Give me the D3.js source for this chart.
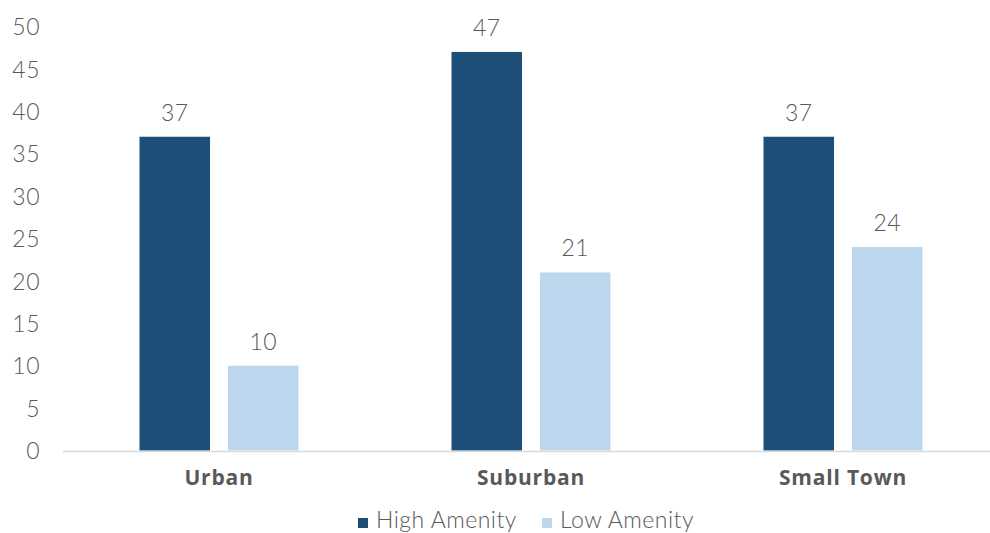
<!DOCTYPE html>
<html>
<head>
<meta charset="utf-8">
<script src="https://cdn.jsdelivr.net/npm/d3@7"></script>
<style>
  html, body { margin: 0; padding: 0; background: #ffffff; }
  svg { display: block; font-family: Lato, "Open Sans", sans-serif; }
</style>
</head>
<body>
<svg id="chart" width="990" height="533"></svg>
<script>
const categories = ["Urban", "Suburban", "Small Town"];
const seriesNames = ["High Amenity", "Low Amenity"];
const highAmenity = [37, 47, 37];
const lowAmenity = [10, 21, 24];
const yTicks = [0, 5, 10, 15, 20, 25, 30, 35, 40, 45, 50];

const colors = { "High Amenity": "#1c4e78", "Low Amenity": "#bdd7ee" };
const textColor = "#595959";

const svg = d3.select("#chart");
const W = 990;
const plotLeft = 63, plotRight = 999, plotTop = 26.5, plotBottom = 450.5;

const x0 = d3.scaleBand().domain(categories).range([plotLeft, plotRight]).padding(0);
const groupW = 159;
const x1 = d3.scaleBand().domain(seriesNames).range([0, groupW]).paddingInner(0.203).paddingOuter(0);
const y = d3.scaleLinear().domain([0, 50]).range([plotBottom, plotTop]);

const rows = categories.map((c, i) => ({
  category: c,
  values: [
    { series: "High Amenity", value: highAmenity[i] },
    { series: "Low Amenity", value: lowAmenity[i] }
  ]
}));

// y axis labels (no line, no ticks)
const yAxis = d3.axisLeft(y).tickValues(yTicks).tickSize(0).tickPadding(0);
const yG = svg.append("g").attr("transform", "translate(40,0)").call(yAxis);
yG.select(".domain").remove();
yG.selectAll("text")
  .attr("fill", textColor)
  .attr("font-size", 23)
  .attr("font-weight", 300)
  .attr("font-family", "Lato, sans-serif")
  .attr("letter-spacing", 0.5)
  .attr("dy", "0.36em");

// bars
const groups = svg.append("g").selectAll("g")
  .data(rows).join("g")
  .attr("transform", d => `translate(${x0(d.category) + (x0.bandwidth() - groupW) / 2},0)`);

groups.selectAll("rect")
  .data(d => d.values).join("rect")
  .attr("x", d => x1(d.series))
  .attr("y", d => y(d.value))
  .attr("width", x1.bandwidth())
  .attr("height", d => y(0) - y(d.value))
  .attr("fill", d => colors[d.series]);

groups.selectAll("text.val")
  .data(d => d.values).join("text")
  .attr("class", "val")
  .attr("x", d => x1(d.series) + x1.bandwidth() / 2)
  .attr("y", d => y(d.value) - 16)
  .attr("text-anchor", "middle")
  .attr("fill", textColor)
  .attr("font-size", 23)
  .attr("font-weight", 300)
  .attr("letter-spacing", 0.5)
  .text(d => d.value);

// baseline
svg.append("line")
  .attr("x1", plotLeft).attr("x2", W)
  .attr("y1", plotBottom + 1).attr("y2", plotBottom + 1)
  .attr("stroke", "#d9d9d9").attr("stroke-width", 1.5);

// category labels
const xAxis = d3.axisBottom(x0).tickSize(0).tickPadding(0);
const xG = svg.append("g").attr("transform", `translate(0,${plotBottom})`).call(xAxis);
xG.select(".domain").remove();
xG.selectAll("text")
  .attr("fill", textColor)
  .attr("font-size", 21)
  .attr("font-weight", 700)
  .attr("font-family", "'Open Sans', sans-serif")
  .attr("letter-spacing", 0.8)
  .attr("dy", 0)
  .attr("y", 34);

// legend
const legendItems = [
  { name: "High Amenity", x: 358 },
  { name: "Low Amenity", x: 542 }
];
const lg = svg.append("g").selectAll("g").data(legendItems).join("g")
  .attr("transform", d => `translate(${d.x},0)`);
lg.append("rect").attr("x", 0).attr("y", 518).attr("width", 10).attr("height", 10)
  .attr("fill", d => colors[d.name]);
lg.append("text").attr("x", 18).attr("y", 528)
  .attr("fill", textColor).attr("font-size", 23).attr("font-weight", 300)
  .attr("letter-spacing", 0.5)
  .text(d => d.name);
</script>
</body>
</html>
